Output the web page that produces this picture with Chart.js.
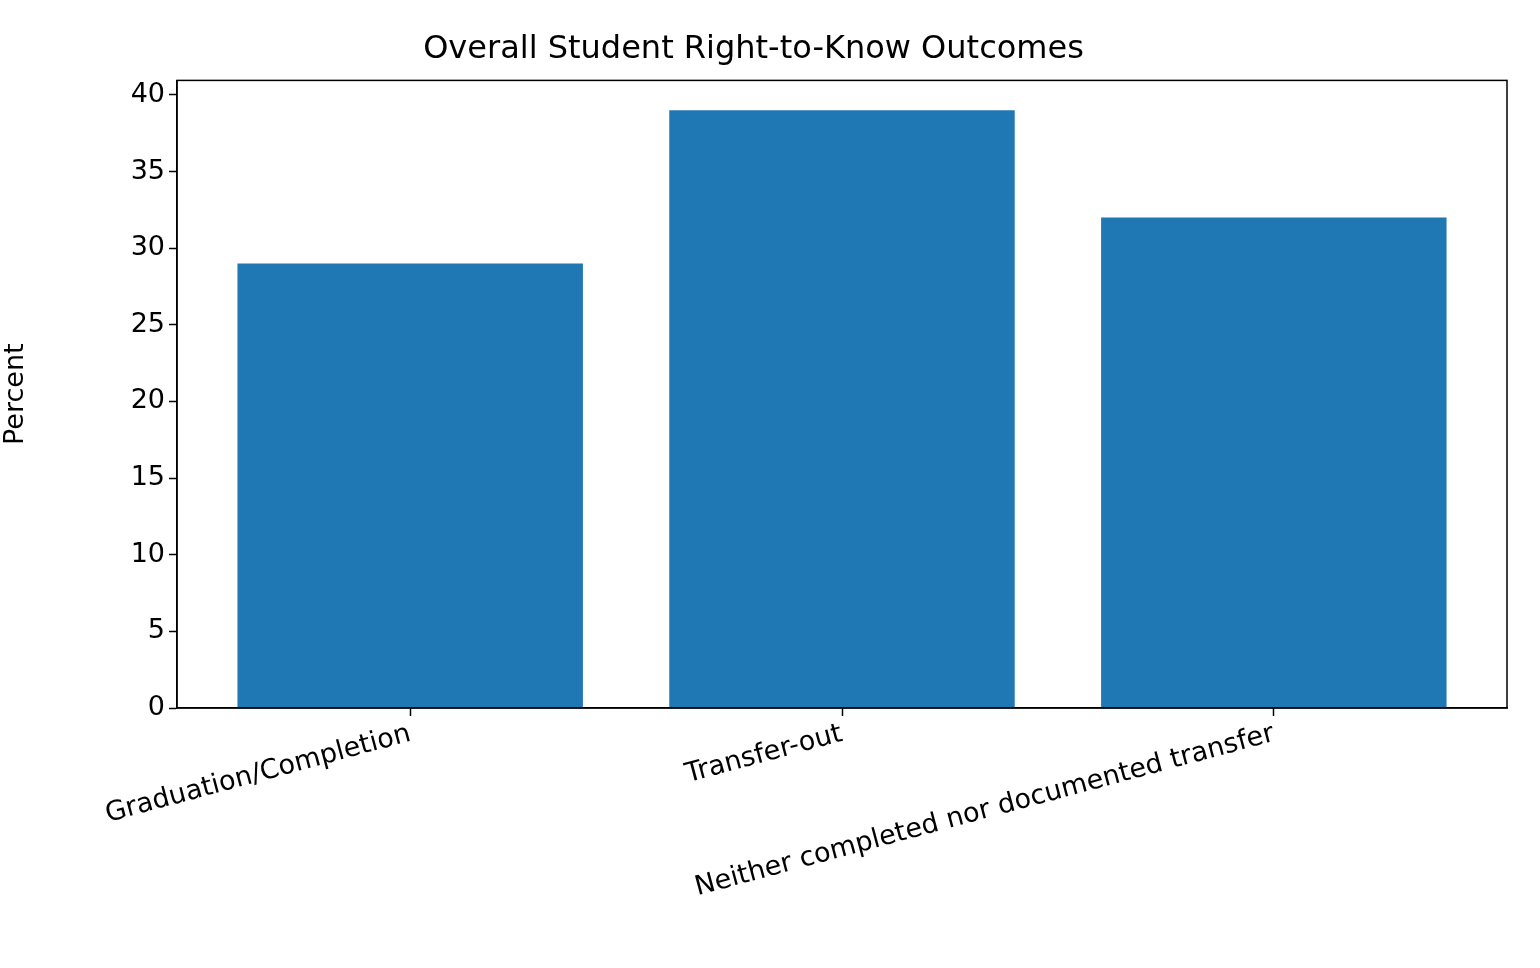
<!DOCTYPE html><html><head><script src="https://cdn.jsdelivr.net/npm/chart.js"></script>
<style>html,body{margin:0;background:#fff}#w{width:1540px;height:968px}</style></head><body><div id="w"><canvas id="c"></canvas></div>
<script>
const categories=["Graduation/Completion","Transfer-out","Neither completed nor documented transfer"];
const values=[29,39,32];
const yTicks=[0,5,10,15,20,25,30,35,40];
const box={id:'box',afterDraw(ch){const a=ch.chartArea,c=ch.ctx;c.save();c.strokeStyle='#000';c.lineWidth=1.5;c.strokeRect(a.left,a.top,a.right-a.left,a.bottom-a.top);c.restore();}};
Chart.defaults.font.family='"DejaVu Sans"';Chart.defaults.color='#000';
new Chart(document.getElementById('c'),{type:'bar',
data:{datasets:[{data:values.map((v,i)=>({x:i,y:v})),backgroundColor:'#1f77b4',barPercentage:0.8,categoryPercentage:1}]},
options:{responsive:true,maintainAspectRatio:false,animation:false,
layout:{padding:{left:0,right:33,top:0,bottom:0}},
plugins:{legend:{display:false},tooltip:{enabled:false},title:{display:true,text:'Overall Student Right-to-Know Outcomes',font:{size:32,weight:'normal'},padding:{top:30,bottom:12}}},
scales:{x:{type:'linear',offset:false,min:-0.54,max:2.54,grid:{display:true,drawOnChartArea:false,offset:false,tickLength:8,color:'#000',tickWidth:1.5},border:{color:'#000',width:1.5},
afterBuildTicks(s){s.ticks=[0,1,2].map(v=>({value:v}));},afterFit(s){s.height=260;},
ticks:{callback:v=>categories[v],minRotation:15,maxRotation:15,font:{size:27},autoSkip:false,padding:2}},
y:{min:0,max:40.95,afterBuildTicks(s){s.ticks=yTicks.map(v=>({value:v}));},afterFit(s){s.width=177;},
grid:{display:true,drawOnChartArea:false,tickLength:8,color:'#000',tickWidth:1.5},border:{color:'#000',width:1.5},ticks:{font:{size:27},padding:4},
title:{display:true,text:'Percent',font:{size:27},padding:{top:0,bottom:12}}}}},
plugins:[box]});
</script></body></html>
